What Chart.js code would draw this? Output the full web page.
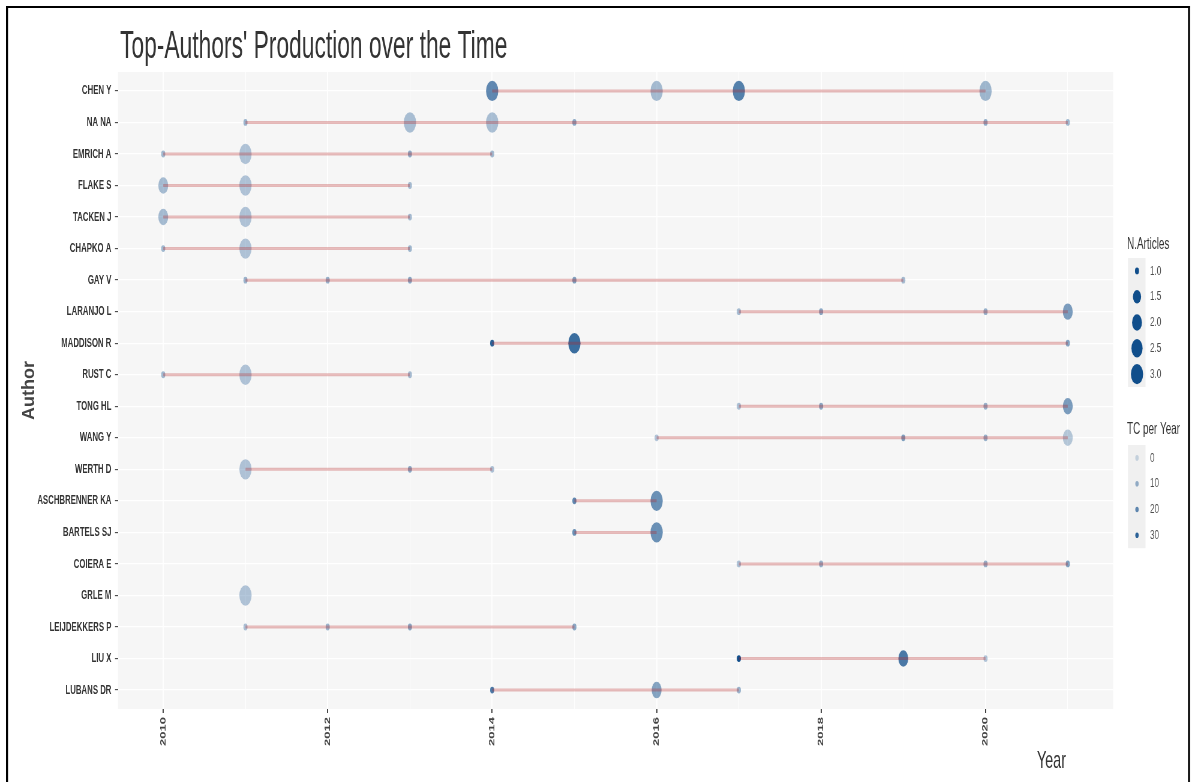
<!DOCTYPE html>
<html>
<head>
<meta charset="utf-8">
<script src="https://cdn.jsdelivr.net/npm/chart.js@4.4.1/dist/chart.umd.min.js"></script>
<style>
  html, body { margin: 0; padding: 0; background: #ffffff; overflow: hidden; }
</style>
</head>
<body>
<canvas id="plot" width="1987" height="782" style="display:block;width:1192px;height:782px"></canvas>
<script>
// Authors, top to bottom
const authors = ['CHEN Y', 'NA NA', 'EMRICH A', 'FLAKE S', 'TACKEN J', 'CHAPKO A', 'GAY V',
  'LARANJO L', 'MADDISON R', 'RUST C', 'TONG HL', 'WANG Y', 'WERTH D', 'ASCHBRENNER KA',
  'BARTELS SJ', 'COIERA E', 'GRLE M', 'LEIJDEKKERS P', 'LIU X', 'LUBANS DR'];

// One entry per author-year: author, year, number of articles, total citations per year
const pubAuthor = [
  'CHEN Y', 'CHEN Y', 'CHEN Y', 'CHEN Y',
  'NA NA', 'NA NA', 'NA NA', 'NA NA', 'NA NA', 'NA NA',
  'EMRICH A', 'EMRICH A', 'EMRICH A', 'EMRICH A',
  'FLAKE S', 'FLAKE S', 'FLAKE S',
  'TACKEN J', 'TACKEN J', 'TACKEN J',
  'CHAPKO A', 'CHAPKO A', 'CHAPKO A',
  'GAY V', 'GAY V', 'GAY V', 'GAY V', 'GAY V',
  'LARANJO L', 'LARANJO L', 'LARANJO L', 'LARANJO L',
  'MADDISON R', 'MADDISON R', 'MADDISON R',
  'RUST C', 'RUST C', 'RUST C',
  'TONG HL', 'TONG HL', 'TONG HL', 'TONG HL',
  'WANG Y', 'WANG Y', 'WANG Y', 'WANG Y',
  'WERTH D', 'WERTH D', 'WERTH D',
  'ASCHBRENNER KA', 'ASCHBRENNER KA',
  'BARTELS SJ', 'BARTELS SJ',
  'COIERA E', 'COIERA E', 'COIERA E', 'COIERA E',
  'GRLE M',
  'LEIJDEKKERS P', 'LEIJDEKKERS P', 'LEIJDEKKERS P', 'LEIJDEKKERS P',
  'LIU X', 'LIU X', 'LIU X',
  'LUBANS DR', 'LUBANS DR', 'LUBANS DR'];
const pubYear = [
  2014, 2016, 2017, 2020,
  2011, 2013, 2014, 2015, 2020, 2021,
  2010, 2011, 2013, 2014,
  2010, 2011, 2013,
  2010, 2011, 2013,
  2010, 2011, 2013,
  2011, 2012, 2013, 2015, 2019,
  2017, 2018, 2020, 2021,
  2014, 2015, 2021,
  2010, 2011, 2013,
  2017, 2018, 2020, 2021,
  2016, 2019, 2020, 2021,
  2011, 2013, 2014,
  2015, 2016,
  2015, 2016,
  2017, 2018, 2020, 2021,
  2011,
  2011, 2012, 2013, 2015,
  2017, 2019, 2020,
  2014, 2016, 2017];
const pubArticles = [
  3, 3, 3, 3,
  1, 3, 3, 1, 1, 1,
  1, 3, 1, 1,
  2, 3, 1,
  2, 3, 1,
  1, 3, 1,
  1, 1, 1, 1, 1,
  1, 1, 1, 2,
  1, 3, 1,
  1, 3, 1,
  1, 1, 1, 2,
  1, 1, 1, 2,
  3, 1, 1,
  1, 3,
  1, 3,
  1, 1, 1, 1,
  3,
  1, 1, 1, 1,
  1, 2, 1,
  1, 2, 1];
const pubTCpY = [
  20, 7, 22, 8,
  9, 6, 6, 12, 11, 8,
  8, 5, 11, 8,
  7, 5, 7,
  7, 5, 7,
  8, 5, 8,
  9, 10, 12, 14, 7,
  7, 12, 10, 15,
  30, 27, 13,
  8, 5, 7,
  6, 12, 10, 15,
  5, 14, 10, 4,
  5, 12, 6,
  20, 18,
  18, 18,
  6, 10, 10, 14,
  5,
  6, 9, 12, 12,
  35, 24, 5,
  24, 13, 9];

// Axis ticks and legend keys
const yearTicks = [2010, 2011, 2012, 2013, 2014, 2015, 2016, 2017, 2018, 2019, 2020, 2021];
const articleKeys = [1.0, 1.5, 2.0, 2.5, 3.0];
const tcKeys = [0, 10, 20, 30];

// The drawing surface is wider than the page and squeezed horizontally by CSS.
const canvas = document.getElementById('plot');
const W = canvas.width, H = canvas.height;
const SX = 1192 / W;
const ix = v => v / SX;           // page x -> canvas x

const minArt = Math.min(...pubArticles), maxArt = Math.max(...pubArticles);
const maxTC = Math.max(...pubTCpY);
const pointRadius = n => 1.7 * (2 + 4 * Math.sqrt((n - minArt) / (maxArt - minArt)));
const pointAlpha = tc => 0.2 + 0.8 * (tc / maxTC);
const pointColor = tc => `rgba(16,78,139,${pointAlpha(tc).toFixed(3)})`;

// One segment per author spanning first to last active year
const lineSets = authors.map((a, i) => {
  const yrs = pubYear.filter((y, k) => pubAuthor[k] === a);
  return {
    data: [{ x: Math.min(...yrs), y: i }, { x: Math.max(...yrs), y: i }],
    showLine: true,
    borderColor: 'rgba(178,34,34,0.3)',
    borderWidth: 3,
    pointRadius: 0,
    pointHoverRadius: 0,
    order: 0
  };
});

const pointSet = {
  data: pubYear.map((y, k) => ({ x: y, y: authors.indexOf(pubAuthor[k]) })),
  showLine: false,
  pointRadius: c => pointRadius(pubArticles[c.dataIndex]),
  pointHoverRadius: c => pointRadius(pubArticles[c.dataIndex]),
  backgroundColor: c => pointColor(pubTCpY[c.dataIndex]),
  borderWidth: 0,
  order: 1
};

const FONT = '"Liberation Sans", Arial, Helvetica, sans-serif';

const panelBg = {
  id: 'panelBg',
  beforeDraw(chart) {
    const { ctx, chartArea: a } = chart;
    ctx.save();
    ctx.fillStyle = '#f6f6f6';
    ctx.fillRect(a.left, a.top, a.right - a.left, a.bottom - a.top);
    ctx.restore();
  }
};

const decor = {
  id: 'decor',
  afterDraw(chart) {
    const { ctx, chartArea: a } = chart;
    ctx.save();

    // outer frame
    ctx.fillStyle = '#000';
    ctx.fillRect(ix(6), 6, ix(1190) - ix(6), 2);
    ctx.fillRect(ix(6), 6, ix(2), 776);
    ctx.fillRect(ix(1188), 6, ix(2), 776);

    // title
    ctx.fillStyle = '#333';
    ctx.textAlign = 'left';
    ctx.textBaseline = 'alphabetic';
    ctx.font = `38px ${FONT}`;
    ctx.fillText("Top-Authors' Production over the Time", ix(120), 58);

    // x axis title
    ctx.font = `24px ${FONT}`;
    ctx.textAlign = 'right';
    ctx.fillText('Year', ix(1066), 768);

    // y axis title
    ctx.save();
    ctx.translate(ix(29), (a.top + a.bottom) / 2);
    ctx.scale(1 / SX, 1);
    ctx.rotate(-Math.PI / 2);
    ctx.font = `bold 18px ${FONT}`;
    ctx.textAlign = 'center';
    ctx.textBaseline = 'middle';
    ctx.fillStyle = '#444';
    ctx.fillText('Author', 0, 0);
    ctx.restore();

    // legend: number of articles
    const kx = ix(1128), kw = ix(1145.5) - ix(1128), kc = ix(1137);
    const step = 25.8;
    ctx.textAlign = 'left';
    ctx.textBaseline = 'alphabetic';
    ctx.fillStyle = '#333';
    ctx.font = `16.5px ${FONT}`;
    ctx.fillText('N.Articles', ix(1127), 249);
    ctx.fillStyle = '#f0f0f0';
    ctx.fillRect(kx, 258, kw, step * articleKeys.length);
    ctx.font = `13.5px ${FONT}`;
    articleKeys.forEach((n, i) => {
      const cy = 258 + step * (i + 0.5);
      ctx.fillStyle = 'rgb(16,78,139)';
      ctx.beginPath();
      ctx.arc(kc, cy, pointRadius(n), 0, Math.PI * 2);
      ctx.fill();
      ctx.fillStyle = '#4d4d4d';
      ctx.textBaseline = 'middle';
      ctx.fillText(n.toFixed(1), ix(1150), cy);
    });

    // legend: citations per year
    ctx.textBaseline = 'alphabetic';
    ctx.fillStyle = '#333';
    ctx.font = `16.5px ${FONT}`;
    ctx.fillText('TC per Year', ix(1127), 434);
    ctx.fillStyle = '#f0f0f0';
    ctx.fillRect(kx, 445, kw, step * tcKeys.length);
    ctx.font = `13.5px ${FONT}`;
    tcKeys.forEach((t, i) => {
      const cy = 445 + step * (i + 0.5);
      ctx.fillStyle = pointColor(t);
      ctx.beginPath();
      ctx.arc(kc, cy, 2.8, 0, Math.PI * 2);
      ctx.fill();
      ctx.fillStyle = '#4d4d4d';
      ctx.textBaseline = 'middle';
      ctx.fillText(String(t), ix(1150), cy);
    });

    ctx.restore();
  }
};

new Chart(canvas.getContext('2d'), {
  type: 'scatter',
  data: { datasets: [...lineSets, pointSet] },
  options: {
    responsive: false,
    animation: false,
    devicePixelRatio: 1,
    layout: { padding: { top: 72, right: W - ix(1113), bottom: 0, left: 0 } },
    plugins: {
      legend: { display: false },
      tooltip: { enabled: false },
      title: { display: false }
    },
    scales: {
      x: {
        type: 'linear',
        min: 2009.45,
        max: 2021.55,
        afterBuildTicks: s => { s.ticks = yearTicks.map(v => ({ value: v })); },
        afterFit: s => { s.height = H - 709; },
        border: { display: false },
        grid: {
          color: '#ffffff',
          lineWidth: c => (c.tick && c.tick.value % 2 === 0) ? 1.9 : 1.0,
          drawTicks: true,
          tickLength: 4,
          tickWidth: 1.8,
          tickColor: c => (c.tick && c.tick.value % 2 === 0) ? '#333' : 'rgba(0,0,0,0)'
        },
        ticks: {
          autoSkip: false,
          minRotation: 90,
          maxRotation: 90,
          padding: 4,
          color: '#444',
          font: { family: FONT, size: 13, weight: 'bold' },
          callback: v => (v % 2 === 0 ? String(v) : '')
        }
      },
      y: {
        type: 'linear',
        reverse: true,
        min: -0.6,
        max: authors.length - 1 + 0.6,
        afterBuildTicks: s => { s.ticks = authors.map((a, i) => ({ value: i })); },
        afterFit: s => { s.width = ix(118); },
        border: { display: false },
        grid: {
          color: '#ffffff',
          lineWidth: 1.3,
          drawTicks: true,
          tickLength: 5,
          tickWidth: 1,
          tickColor: '#333'
        },
        ticks: {
          autoSkip: false,
          padding: 6,
          color: '#333',
          font: { family: FONT, size: 13, weight: 'bold' },
          callback: v => authors[v]
        }
      }
    }
  },
  plugins: [panelBg, decor]
});
</script>
</body>
</html>
